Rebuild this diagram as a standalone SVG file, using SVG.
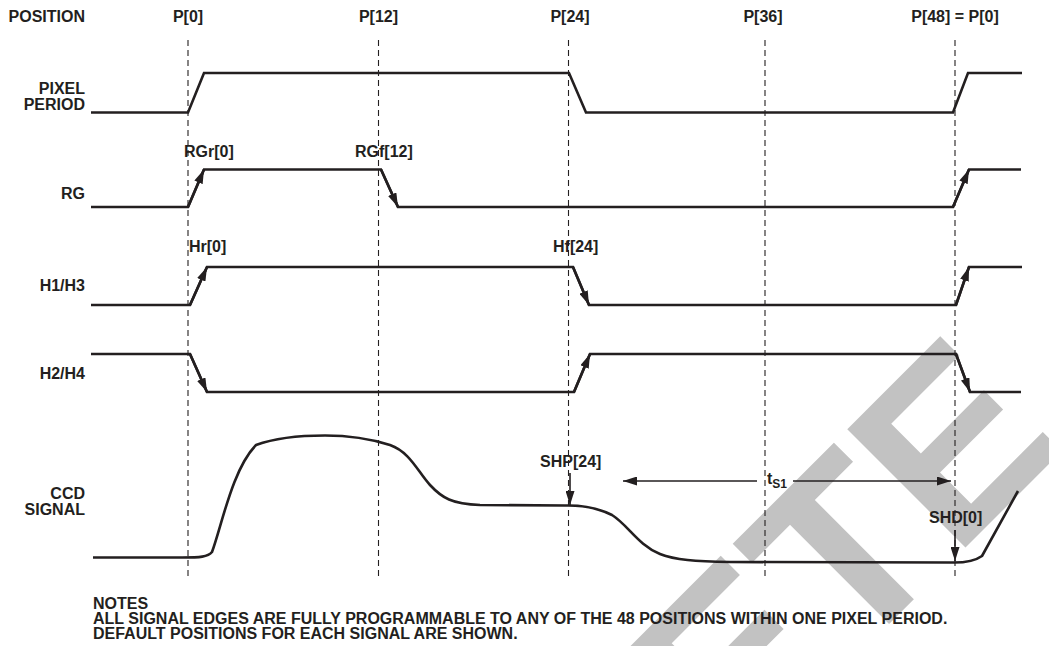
<svg xmlns="http://www.w3.org/2000/svg" width="1049" height="646" viewBox="0 0 1049 646">
<defs>
<style>
text{font-family:"Liberation Sans",Arial,Helvetica,sans-serif;font-weight:bold;fill:#231f20;font-size:16px}
.r{text-anchor:end}
.c{text-anchor:middle}
.grid{stroke:#231f20;stroke-width:1.1;stroke-dasharray:6 4;fill:none}
.sig{stroke:#231f20;stroke-width:2.6;fill:none;stroke-linejoin:miter}
.edge{stroke:#231f20;stroke-width:2.6;fill:none}
.arr{stroke:#231f20;stroke-width:1.6;fill:none}
.wm{fill:#c2c2c2;font-size:243px;font-weight:bold}
</style>
<marker id="ah" viewBox="0 0 14 9" markerWidth="14" markerHeight="9" refX="14" refY="4.5" orient="auto" markerUnits="userSpaceOnUse">
<path d="M0,0 L14,4.5 L0,9 z" fill="#231f20"/>
</marker>
</defs>
<rect width="1049" height="646" fill="#ffffff"/>
<g id="watermark">
<text class="wm" text-anchor="end" transform="translate(1068.6,444.4) rotate(-45)">OBSOLETE</text>
</g>
<g id="grid">
<line class="grid" x1="188" y1="40" x2="188" y2="580"/>
<line class="grid" x1="378.5" y1="40" x2="378.5" y2="580"/>
<line class="grid" x1="568.5" y1="40" x2="568.5" y2="580"/>
<line class="grid" x1="765" y1="40" x2="765" y2="580"/>
<line class="grid" x1="955" y1="40" x2="955" y2="580"/>
</g>
<g id="position-labels">
<text x="85" y="22" class="r">POSITION</text>
<text x="188" y="22" class="c">P[0]</text>
<text x="378.5" y="22" class="c">P[12]</text>
<text x="570" y="22" class="c">P[24]</text>
<text x="763" y="22" class="c">P[36]</text>
<text x="955" y="22" class="c">P[48] = P[0]</text>
</g>
<g id="pixel-period">
<text x="85" y="94" class="r">PIXEL</text>
<text x="85" y="109.5" class="r">PERIOD</text>
<polyline class="sig" points="91,112.5 188,112.5 204,73 569,73 586,112.5 953,112.5 968,73 1022,73"/>
</g>
<g id="rg">
<text x="85" y="199" class="r">RG</text>
<text x="184" y="157">RGr[0]</text>
<text x="355" y="157">RGf[12]</text>
<polyline class="sig" points="91,207 188,207 204,169.5 381,169.5 398,207 953,207 969,169.5 1021,169.5"/>
</g>
<g id="h1h3">
<text x="85" y="291" class="r">H1/H3</text>
<text x="189" y="252">Hr[0]</text>
<text x="553" y="252">Hf[24]</text>
<polyline class="sig" points="91,305 190,305 207,267 573,267 589,305 956,305 969,267 1022,267"/>
</g>
<g id="h2h4">
<text x="85" y="379" class="r">H2/H4</text>
<polyline class="sig" points="91,354 190,354 207,392 574,392 590,354 956,354 970,392 1021,392"/>
</g>
<g id="ccd-signal">
<text x="85" y="499" class="r">CCD</text>
<text x="85" y="515" class="r">SIGNAL</text>
<path class="sig" d="M93,557.5 L182,557.5 C200,557.5 208,557 212,552 C222,525 232,470 256,445 C275,438 300,435.5 325,435.5 C350,435.5 368,438 390,445 C410,452 418,472 430,485 C442,498 452,504 480,505 L565,505.5 C585,505 598,508 612,515 C628,525 638,545 660,554 C675,560 695,561.5 730,562 L950,562.5 C965,563 975,561 982,556 L1018,491"/>
<text x="540" y="467">SHP[24]</text>
<text x="929" y="523">SHD[0]</text>
</g>
<g id="connectors">
<line class="edge" x1="188" y1="207" x2="204" y2="169.5" marker-end="url(#ah)"/>
<line class="edge" x1="381" y1="169.5" x2="398" y2="207" marker-end="url(#ah)"/>
<line class="edge" x1="953" y1="207" x2="969" y2="169.5" marker-end="url(#ah)"/>
<line class="edge" x1="190" y1="305" x2="207" y2="267" marker-end="url(#ah)"/>
<line class="edge" x1="573" y1="267" x2="589" y2="305" marker-end="url(#ah)"/>
<line class="edge" x1="956" y1="305" x2="969" y2="267" marker-end="url(#ah)"/>
<line class="edge" x1="190" y1="354" x2="207" y2="392" marker-end="url(#ah)"/>
<line class="edge" x1="574" y1="392" x2="590" y2="354" marker-end="url(#ah)"/>
<line class="edge" x1="956" y1="354" x2="970" y2="392" marker-end="url(#ah)"/>
<line class="arr" x1="570" y1="473" x2="570" y2="505" marker-end="url(#ah)"/>
<line class="arr" x1="955" y1="530" x2="955" y2="561" marker-end="url(#ah)"/>
<line class="arr" x1="757" y1="481" x2="623" y2="481" marker-end="url(#ah)"/>
<line class="arr" x1="793" y1="481" x2="951" y2="481" marker-end="url(#ah)"/>
</g>
<g id="ts1-label">
<text x="767" y="484" font-size="17px">t<tspan font-size="12px" dy="4">S1</tspan></text>
</g>
<g id="notes">
<text x="93" y="609">NOTES</text>
<text x="93" y="624">ALL SIGNAL EDGES ARE FULLY PROGRAMMABLE TO ANY OF THE 48 POSITIONS WITHIN ONE PIXEL PERIOD.</text>
<text x="93" y="639">DEFAULT POSITIONS FOR EACH SIGNAL ARE SHOWN.</text>
</g>
</svg>
